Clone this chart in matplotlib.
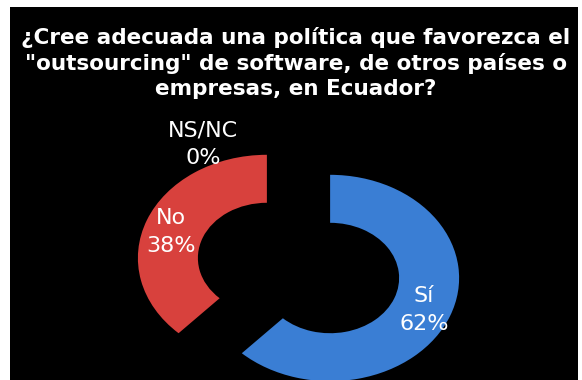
import matplotlib.pyplot as plt
from matplotlib.patches import Rectangle

# datos de la encuesta
categorias = ['Sí', 'No', 'NS/NC']
porcentajes = [62, 38, 0]
colores = ['#3A7ED4', '#D8413D', '#8BB04A']

titulo = ('¿Cree adecuada una política que favorezca el\n'
          '"outsourcing" de software, de otros países o\n'
          'empresas, en Ecuador?')

W, H = 582, 380
APLASTADO = 0.8  # la dona original está achatada verticalmente

fig = plt.figure(figsize=(W / 100, H / 100), dpi=100)
fig.patch.set_facecolor('white')

# dona "explotada" en un eje con escala vertical reducida
ax = fig.add_axes([0, 0, 1, 1], zorder=1)
ax.add_patch(Rectangle((10, 0), 568, (H - 7) / APLASTADO, facecolor='black',
                       edgecolor='none', zorder=0))
ax.pie(porcentajes, colors=colores, startangle=90, counterclock=False,
       center=(298.5, (H - 268) / APLASTADO), radius=129, explode=[34, 34, 0],
       wedgeprops=dict(width=60, edgecolor='none'), frame=True)
ax.set_aspect('auto')
ax.set_xlim(0, W)
ax.set_ylim(0, H / APLASTADO)
ax.axis('off')

# capa de textos en coordenadas de píxel (y hacia abajo)
ax_txt = fig.add_axes([0, 0, 1, 1], zorder=2)
ax_txt.patch.set_alpha(0)
ax_txt.set_xlim(0, W)
ax_txt.set_ylim(H, 0)
ax_txt.axis('off')

# etiquetas
pos_etiquetas = {'Sí': (424, 310), 'No': (171, 232), 'NS/NC': (203, 144)}
for cat, pct in zip(categorias, porcentajes):
    x, y = pos_etiquetas[cat]
    ax_txt.text(x, y, f'{cat}\n{pct}%', color='white', fontsize=16, family='DejaVu Sans',
                ha='center', va='center', linespacing=1.5)

ax_txt.text(296, 63, titulo, color='white', fontsize=15.5, fontweight='bold',
            family='DejaVu Sans', ha='center', va='center', linespacing=1.3)

plt.savefig('out.png', dpi=100, facecolor=fig.get_facecolor())
